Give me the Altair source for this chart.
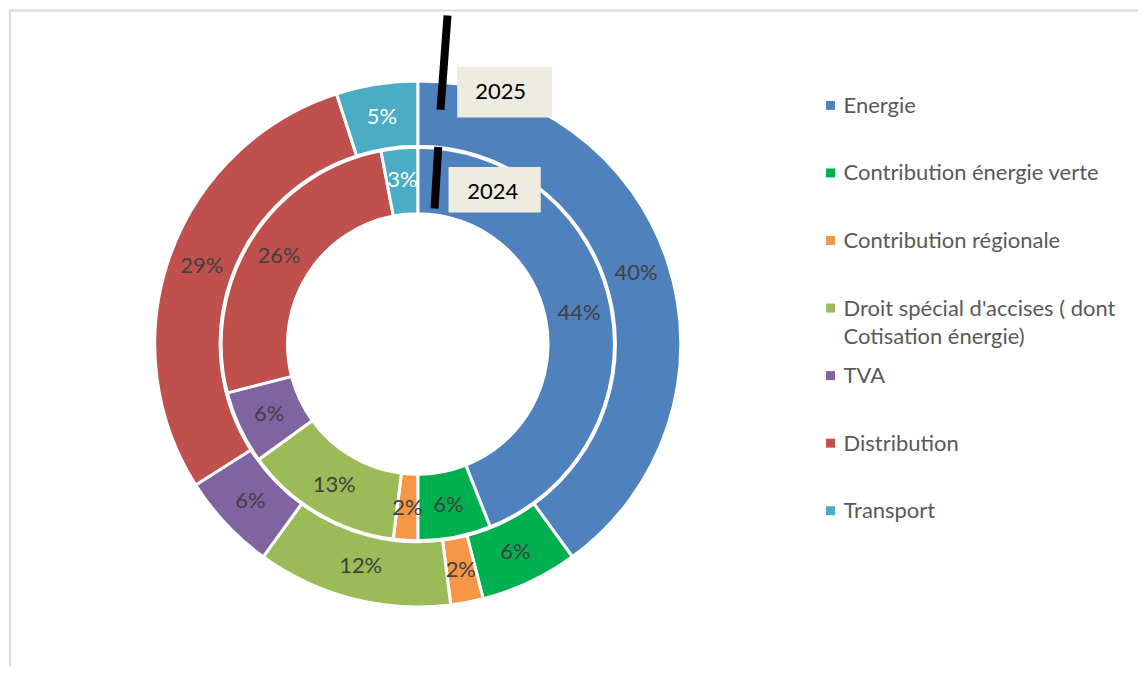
import altair as alt
import pandas as pd

# ---- data -------------------------------------------------------------
categories = [
    "Energie",
    "Contribution énergie verte",
    "Contribution régionale",
    "Droit spécial d'accises ( dont\nCotisation énergie)",
    "TVA",
    "Distribution",
    "Transport",
]
colors = ["#4F81BD", "#00B050", "#F79646", "#9BBB59", "#8064A2", "#C0504D", "#4BACC6"]
values_2025 = [40, 6, 2, 12, 6, 29, 5]
values_2024 = [44, 6, 2, 13, 6, 26, 3]
years = ["2025", "2024"]

rows = []
for year, vals in zip(years, [values_2025, values_2024]):
    for i, (c, v) in enumerate(zip(categories, vals)):
        rows.append({"year": year, "cat": c, "idx": i, "value": v})
df = pd.DataFrame(rows)
legend_df = pd.DataFrame({"cat": categories, "idx": list(range(len(categories)))})
one = pd.DataFrame({"k": [0]})

FONT = "Lato"
FS = 22
CX, CY = 409.5, 336

color_scale = alt.Scale(domain=categories, range=colors)
theta_scale = alt.Scale(domain=[0, 100], range=[0, 6.283185307179586])

base = alt.Chart(df).transform_window(
    cum="sum(value)", groupby=["year"], sort=[alt.SortField("idx")], frame=[None, 0]
).transform_calculate(
    start="datum.cum - datum.value", mid="datum.cum - datum.value / 2"
)


def ring(year, inner, outer, label_r):
    b = base.transform_filter(alt.datum.year == year)
    arcs = b.mark_arc(innerRadius=inner, outerRadius=outer, stroke="white", strokeWidth=3).encode(
        theta=alt.Theta("start:Q", scale=theta_scale),
        theta2="cum:Q",
        color=alt.Color("cat:N", scale=color_scale, legend=None),
        x=alt.value(CX),
        y=alt.value(CY),
    )
    labels = b.mark_text(radius=label_r, font=FONT, fontSize=FS, align="center", baseline="middle").encode(
        theta=alt.Theta("mid:Q", scale=theta_scale),
        text=alt.Text("label:N"),
        color=alt.condition(alt.datum.cat == "Transport", alt.value("white"), alt.value("#404040")),
        x=alt.value(CX),
        y=alt.value(CY),
    ).transform_calculate(label="datum.value + '%'")
    return arcs, labels


outer_arcs, outer_labels = ring("2025", 198, 263.5, 230)
inner_arcs, inner_labels = ring("2024", 130.5, 197, 164.5)

# ---- legend (drawn with a point scale) ---------------------------------
ly = alt.Y("cat:N", scale=alt.Scale(domain=categories, range=[97, 503], padding=0), axis=None, sort=None)
leg_sq = alt.Chart(legend_df).mark_square(size=81, opacity=1).encode(
    x=alt.value(823),
    y=ly,
    color=alt.Color("cat:N", scale=color_scale, legend=None),
)
leg_tx = alt.Chart(legend_df).mark_text(
    font=FONT, fontSize=FS, align="left", baseline="top", dy=-9.5, lineBreak="\n",
    lineHeight=28.5, color="#595959",
).encode(x=alt.value(836), y=ly, text="cat:N")

# ---- frame lines -----------------------------------------------------------
top_line = alt.Chart(one).mark_rule(color="#d9d9d9", strokeWidth=2).encode(
    x=alt.value(0), x2=alt.value(1131), y=alt.value(1.8)
)
left_line = alt.Chart(one).mark_rule(color="#d9d9d9", strokeWidth=2).encode(
    x=alt.value(1), y=alt.value(1), y2=alt.value(659)
)

# ---- year callouts -----------------------------------------------------------
line25 = alt.Chart(one).mark_rule(color="black", strokeWidth=8).encode(
    x=alt.value(439.3), y=alt.value(7), x2=alt.value(432.3), y2=alt.value(101.3)
)
line24 = alt.Chart(one).mark_rule(color="black", strokeWidth=8).encode(
    x=alt.value(430), y=alt.value(138.7), x2=alt.value(426.3), y2=alt.value(200.3)
)
box25 = alt.Chart(one).mark_rect(color="#EEECE1").encode(
    x=alt.value(449), x2=alt.value(544), y=alt.value(58), y2=alt.value(109)
)
box24 = alt.Chart(one).mark_rect(color="#EEECE1").encode(
    x=alt.value(440.3), x2=alt.value(532.7), y=alt.value(158.7), y2=alt.value(204.3)
)
txt25 = alt.Chart(one).mark_text(font=FONT, fontSize=FS, color="black", align="center", baseline="middle",
                                 text=years[0]).encode(x=alt.value(492.5), y=alt.value(83.3))
txt24 = alt.Chart(one).mark_text(font=FONT, fontSize=FS, color="black", align="center", baseline="middle",
                                 text=years[1]).encode(x=alt.value(484.7), y=alt.value(183.3))

chart = alt.layer(
    top_line, left_line,
    outer_arcs, inner_arcs, outer_labels, inner_labels,
    leg_sq, leg_tx,
    line25, line24, box25, box24, txt25, txt24,
).properties(width=1131, height=659, padding=0).configure_view(stroke=None)

chart.save("out.html", embed_options={"renderer": "svg", "actions": False})
